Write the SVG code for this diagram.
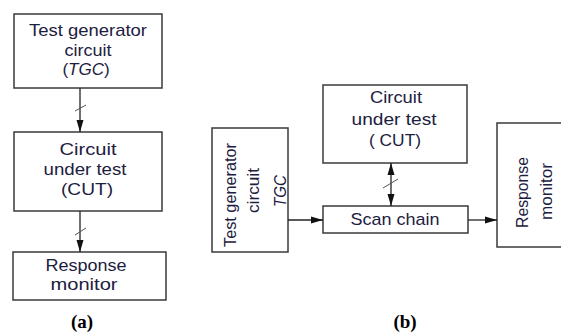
<svg xmlns="http://www.w3.org/2000/svg" width="561" height="334" viewBox="0 0 561 334">
<defs>
<style>
.box{fill:#fff;stroke:#3a3a3a;stroke-width:1.5}
.t{font-family:"Liberation Sans",Arial,sans-serif;font-size:17px;fill:#1c2040;text-anchor:middle}
.i{font-style:italic}
.cap{font-family:"Liberation Serif","Times New Roman",serif;font-size:19px;font-weight:bold;fill:#000;text-anchor:middle}
.ln{stroke:#222;stroke-width:1.3;fill:none}
.sl{stroke:#555;stroke-width:1;fill:none}
</style>
<marker id="ah" markerUnits="userSpaceOnUse" markerWidth="13" markerHeight="9" refX="12" refY="4.5" orient="auto-start-reverse">
<path d="M0,1 L12,4.5 L0,8 Z" fill="#111"/>
</marker>
</defs>
<rect width="561" height="334" fill="#fff"/>

<g id="a-tgc">
<rect class="box" x="14" y="14" width="148" height="74"/>
<text class="t" x="88" y="36" textLength="118" lengthAdjust="spacingAndGlyphs">Test generator</text>
<text class="t" x="88" y="56" textLength="47" lengthAdjust="spacingAndGlyphs">circuit</text>
<text class="t" x="86" y="75">(<tspan class="i">TGC</tspan>)</text>
</g>
<g id="a-cut">
<rect class="box" x="14" y="132" width="148" height="79"/>
<text class="t" x="88" y="155" textLength="57" lengthAdjust="spacingAndGlyphs">Circuit</text>
<text class="t" x="85" y="175" textLength="83" lengthAdjust="spacingAndGlyphs">under test</text>
<text class="t" x="87" y="195" textLength="52" lengthAdjust="spacingAndGlyphs">(CUT)</text>
</g>
<g id="a-rm">
<rect class="box" x="13" y="252" width="153" height="48"/>
<text class="t" x="86" y="271" textLength="81" lengthAdjust="spacingAndGlyphs">Response</text>
<text class="t" x="84" y="290" textLength="67" lengthAdjust="spacingAndGlyphs">monitor</text>
</g>

<g id="b-tgc">
<rect class="box" x="212" y="128" width="76" height="124"/>
<text class="t" transform="translate(236,195) rotate(-90)" textLength="104" lengthAdjust="spacingAndGlyphs">Test generator</text>
<text class="t" transform="translate(259,190.5) rotate(-90)" textLength="45" lengthAdjust="spacingAndGlyphs">circuit</text>
<text class="t i" transform="translate(286,191) rotate(-90)" textLength="32" lengthAdjust="spacingAndGlyphs">TGC</text>
</g>
<g id="b-cut">
<rect class="box" x="323" y="85" width="144" height="78"/>
<text class="t" x="396" y="103" textLength="52" lengthAdjust="spacingAndGlyphs">Circuit</text>
<text class="t" x="394" y="125" textLength="85" lengthAdjust="spacingAndGlyphs">under test</text>
<text class="t" x="395" y="146" textLength="52" lengthAdjust="spacingAndGlyphs">( CUT)</text>
</g>
<g id="b-scan">
<rect class="box" x="323" y="206" width="145" height="27"/>
<text class="t" x="395" y="225" textLength="89" lengthAdjust="spacingAndGlyphs">Scan chain</text>
</g>
<g id="b-rm">
<rect class="box" x="497" y="123" width="80" height="124"/>
<text class="t" transform="translate(528,192.5) rotate(-90)" textLength="71" lengthAdjust="spacingAndGlyphs">Response</text>
<text class="t" transform="translate(552,191.5) rotate(-90)" textLength="57" lengthAdjust="spacingAndGlyphs">monitor</text>
</g>

<g id="connectors">
<line class="ln" x1="80" y1="88" x2="80" y2="132" marker-end="url(#ah)"/>
<line class="sl" x1="75" y1="111" x2="86" y2="105"/>
<line class="ln" x1="80" y1="211" x2="80" y2="252" marker-end="url(#ah)"/>
<line class="sl" x1="75" y1="235" x2="86" y2="228"/>
<line class="ln" x1="391" y1="163" x2="391" y2="206" marker-start="url(#ah)" marker-end="url(#ah)"/>
<line class="sl" x1="383" y1="188" x2="398" y2="179"/>
<line class="ln" x1="288" y1="220" x2="323" y2="220" marker-end="url(#ah)"/>
<line class="ln" x1="468" y1="220" x2="497" y2="220" marker-end="url(#ah)"/>
</g>

<text class="cap" x="82" y="328">(a)</text>
<text class="cap" x="405" y="328">(b)</text>
</svg>
